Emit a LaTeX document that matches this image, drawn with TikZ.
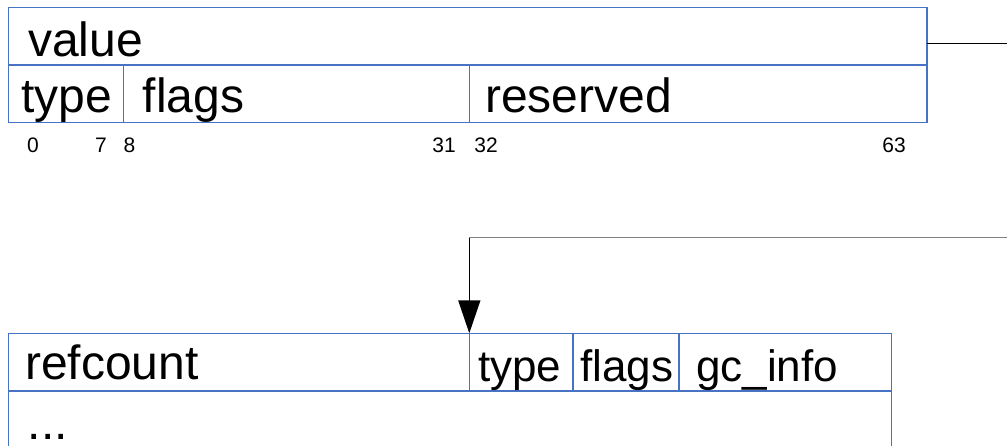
\documentclass[tikz,border=0pt]{standalone}
\usepackage{fontspec}
\setmainfont{Liberation Sans}
\usetikzlibrary{arrows.meta}
\definecolor{boxblue}{RGB}{72,114,196}
\definecolor{linegray}{RGB}{128,128,128}
\begin{document}
\begin{tikzpicture}[x=1pt,y=-1pt,
  cell/.style={draw=boxblue,line width=1.3pt,inner sep=0pt,outer sep=0pt,anchor=north west},
  big/.style={inner sep=0pt,anchor=base west,font=\fontsize{48}{56}\selectfont},
  mid/.style={inner sep=0pt,anchor=base west,font=\fontsize{44}{52}\selectfont},
  bitno/.style={inner sep=0pt,anchor=base,font=\fontsize{21}{25}\selectfont},
  conn/.style={line width=1.5pt,black}]
\clip (0,0) rectangle (1007,446);
% top structure
\node[cell,minimum width=918.5pt,minimum height=57.5pt] (value) at (8.5,7.5) {};
\node[cell,minimum width=115.2pt,minimum height=57.7pt] (ttype) at (8.5,65) {};
\node[cell,minimum width=346pt,minimum height=57.7pt] (tflags) at (123.7,65) {};
\node[cell,minimum width=457.3pt,minimum height=57.7pt] (tres) at (469.7,65) {};
\node[big] (tvalue) at (28,56.7) {value};
\node[big] (ttypetxt) at (21,113) {type};
\node[big] (tflagstxt) at (142.5,113) {flags};
\node[big] (trestxt) at (485,113) {reserved};
\node[bitno] (n0) at (33,153) {0};
\node[bitno] (n7) at (101,153) {7};
\node[bitno] (n8) at (129.5,153) {8};
\node[bitno] (n31) at (444,153) {31};
\node[bitno] (n32) at (486,153) {32};
\node[bitno] (n63) at (894,153) {63};
% bottom structure
\node[cell,minimum width=460.8pt,minimum height=57.7pt] (refcount) at (8.5,333.3) {};
\node[cell,minimum width=103.7pt,minimum height=57.7pt] (btype) at (469.3,333.3) {};
\node[cell,minimum width=106pt,minimum height=57.7pt] (bflags) at (573,333.3) {};
\node[cell,minimum width=212.7pt,minimum height=57.7pt] (bgc) at (679,333.3) {};
\node[cell,minimum width=883.2pt,minimum height=80pt] (brest) at (8.5,391) {};
\node[big] (refcounttxt) at (25,380) {refcount};
\node[mid] (btypetxt) at (478,381.5) {type};
\node[mid] (bflagstxt) at (580,381.5) {flags};
\node[mid] (bgctxt) at (696,381.5) {gc\_info};
\node[big] (dots) at (27.6,439) {...};
% connectors
\coordinate (outA) at (1007,43.3);
\coordinate (inB) at (1007,237.7);
\coordinate (corner) at (btype.north west |- inB);
\draw[conn] (value.east |- outA) -- (outA);
\draw[line width=1.5pt,linegray] (inB) -- (corner);
\draw[conn,-{Triangle[width=22pt,length=33pt]}] (corner) -- (btype.north west);
\end{tikzpicture}
\end{document}
